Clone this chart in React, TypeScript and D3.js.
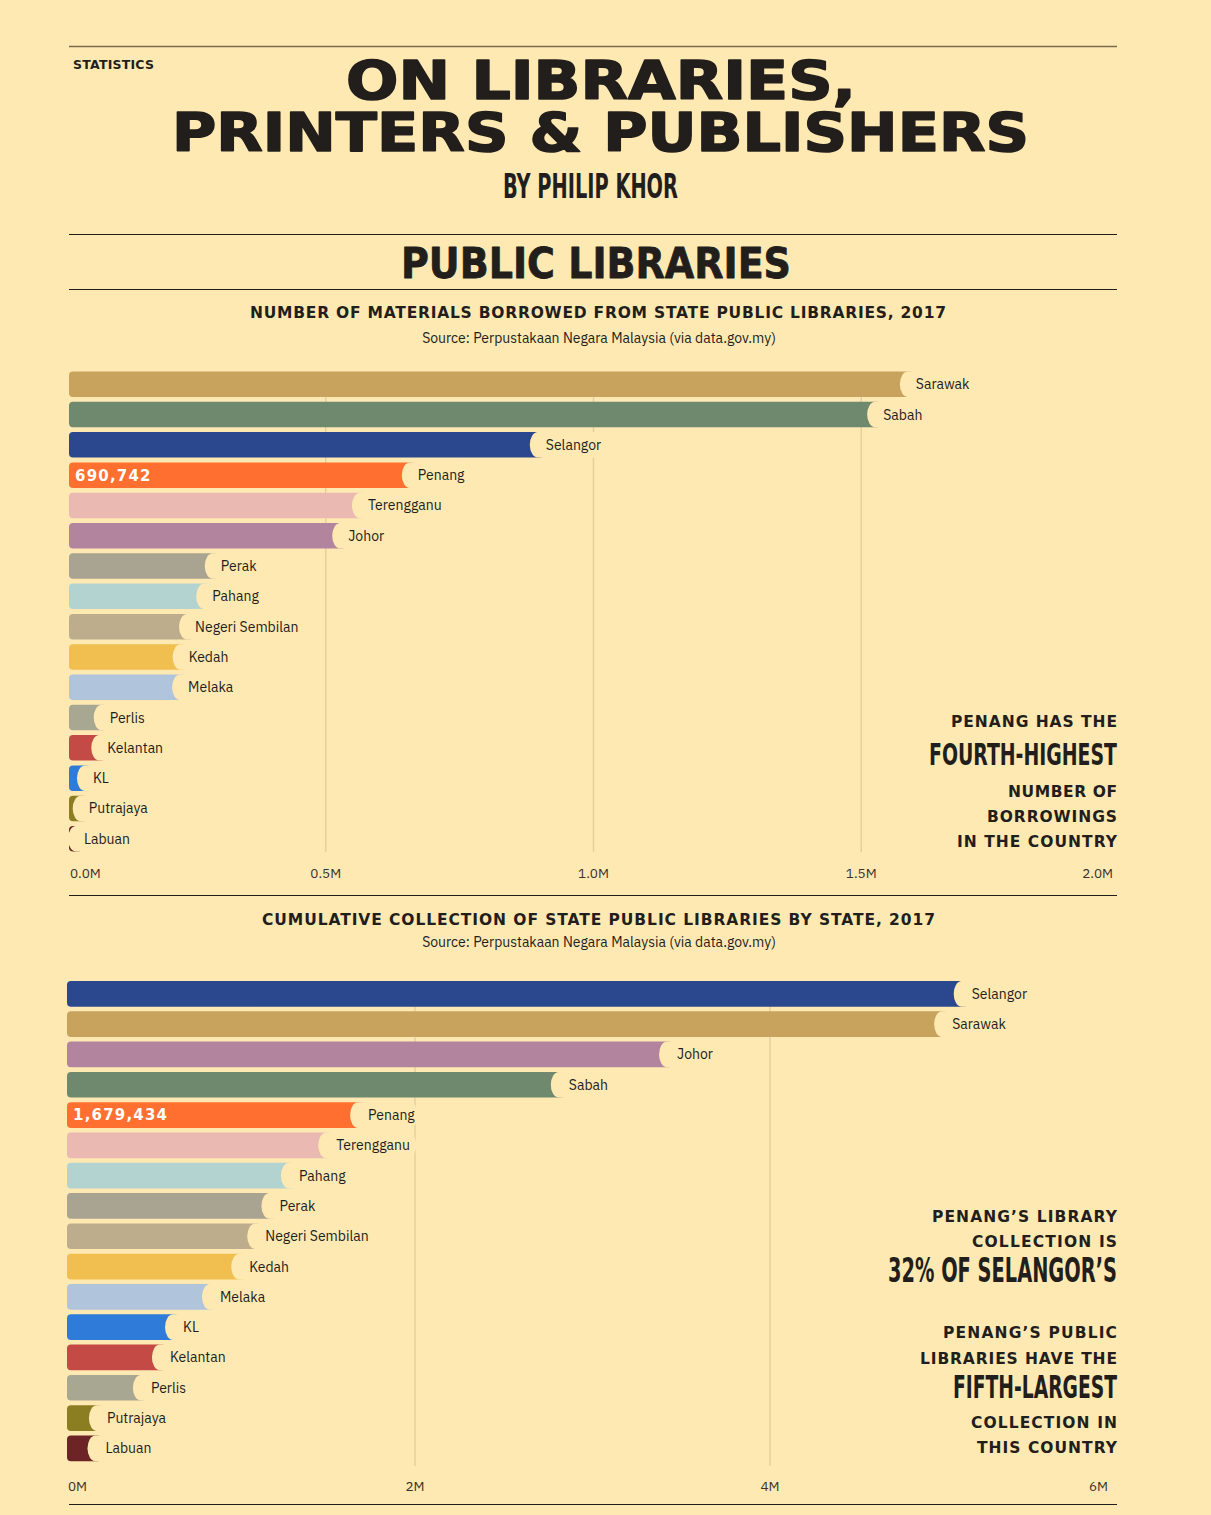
import React, { useEffect } from "react";
import * as d3 from "d3";

// ---------- DATA ----------
const borrowStates = ["Sarawak", "Sabah", "Selangor", "Penang", "Terengganu", "Johor", "Perak", "Pahang", "Negeri Sembilan", "Kedah", "Melaka", "Perlis", "Kelantan", "KL", "Putrajaya", "Labuan"];
const borrowValues = [1587000, 1526000, 896000, 657000, 564000, 527000, 289000, 273000, 241000, 229000, 228000, 81600, 77100, 50400, 42400, 33600];
const borrowTicks = [0, 500000, 1000000, 1500000, 2000000];
const penangBorrowings = 690742;

const collectionStates = ["Selangor", "Sarawak", "Johor", "Sabah", "Penang", "Terengganu", "Pahang", "Perak", "Negeri Sembilan", "Kedah", "Melaka", "KL", "Kelantan", "Perlis", "Putrajaya", "Labuan"];
const collectionValues = [5080000, 4970000, 3420000, 2810000, 1679434, 1500000, 1290000, 1180000, 1100000, 1010000, 845000, 637000, 563000, 456000, 208000, 200000];
const collectionTicks = [0, 2000000, 4000000, 6000000];
const penangCollection = 1679434;

const stateColors: Record<string, string> = {
  Sarawak: "#C8A35E",
  Sabah: "#6E896E",
  Selangor: "#2B488E",
  Penang: "#FF6F30",
  Terengganu: "#EAB9B2",
  Johor: "#B3849D",
  Perak: "#A9A491",
  Pahang: "#B3D3D1",
  "Negeri Sembilan": "#BDAD8C",
  Kedah: "#F0BF4F",
  Melaka: "#B0C4DC",
  Perlis: "#A8A792",
  Kelantan: "#C44A46",
  KL: "#2F7BDA",
  Putrajaya: "#8A7D22",
  Labuan: "#6C2426",
};

// ---------- STYLE ----------
const BG = "#FFE9B3";
const INK = "#221E1B";
const GRID = "#E6CF9E";
const WIDE = "'DejaVu Sans', Verdana, sans-serif";
const NARROW = "'Liberation Sans Narrow', 'DejaVu Sans Condensed', Roboto, sans-serif";
const BODY = "'IBM Plex Sans', 'Noto Sans', 'Open Sans', sans-serif";

type FitProps = { x: number; y: number; w: number; size: number; font: string; weight?: number | string; squeeze?: boolean; fill?: string; stroke?: number; children: string };
const Fit = ({ x, y, w, size, font, weight = 700, squeeze = false, fill = INK, stroke = 0, children }: FitProps) => (
  <text x={x} y={y} fontFamily={font} fontSize={size} fontWeight={weight} fill={fill}
    stroke={stroke ? fill : undefined} strokeWidth={stroke || undefined} strokeLinejoin="round"
    textLength={w} lengthAdjust={squeeze ? "spacingAndGlyphs" : "spacing"}>{children}</text>
);

type ChartProps = {
  states: string[];
  values: number[];
  ticks: number[];
  tickFmt: (v: number) => string;
  domainMax: number;
  range: [number, number];
  barLeft: number;
  axisRight: number;
  top: number;
  step: number;
  barH: number;
  gridBottom: number;
  axisY: number;
  highlight: string;
  highlightValue: number;
  labelGap: number;
};

const BarChart = (p: ChartProps) => {
  const x = d3.scaleLinear().domain([0, p.domainMax]).range(p.range);
  const pad = (p.step - p.barH) / p.step;
  const y = d3.scaleBand<string>().domain(p.states).range([p.top - (p.step * pad) / 2, p.top - (p.step * pad) / 2 + p.states.length * p.step]).paddingInner(pad).paddingOuter(pad / 2);
  const bw = y.bandwidth();
  const fmtComma = d3.format(",");
  return (
    <g>
      {p.ticks.slice(1, -1).map((t) => (
        <line key={t} x1={x(t)} x2={x(t)} y1={y(p.states[0])!} y2={p.gridBottom} stroke={GRID} strokeWidth={1.5} />
      ))}
      {p.states.map((s, i) => {
        const end = x(p.values[i]);
        const yy = y(s)!;
        const tw = s.length * 7.6 + 22;
        return (
          <g key={s}>
            <rect x={p.barLeft} y={yy} width={Math.max(0, end - p.barLeft + 6)} height={bw} rx={4} fill={stateColors[s]} />
            <rect x={end - 8} y={yy} width={tw} height={bw} rx={8} ry={bw / 2} fill={BG} />
            <text x={end + p.labelGap} y={yy + bw / 2} dy="0.36em" fontFamily={BODY} fontSize={14} fill={INK}>{s}</text>
            {s === p.highlight && (
              <text x={p.barLeft + 6} y={yy + bw / 2} dy="0.36em" fontFamily={WIDE} fontWeight={700} fontSize={15} letterSpacing={1.2} fill="#FFFFFF">{fmtComma(p.highlightValue)}</text>
            )}
          </g>
        );
      })}
      {p.ticks.map((t, i) => {
        const last = i === p.ticks.length - 1;
        const first = i === 0;
        return (
          <text key={t} x={first ? p.barLeft + 1 : last ? p.axisRight : x(t)} y={p.axisY}
            textAnchor={first ? "start" : last ? "end" : "middle"} fontFamily={BODY} fontSize={13.5} fill="#3A332C">{p.tickFmt(t)}</text>
        );
      })}
    </g>
  );
};

export default function App() {
  useEffect(() => {
    document.body.style.margin = "0";
    document.body.style.background = BG;
  }, []);
  const W = 1211, H = 1515;
  const R = 1117;
  const ann = (text: string, y: number, w: number) => (
    <Fit x={R - w} y={y} w={w} size={15.5} font={WIDE}>{text}</Fit>
  );
  const big = (text: string, y: number, w: number, size: number) => (
    <Fit x={R - w} y={y} w={w} size={size} font={NARROW} weight={600} squeeze>{text}</Fit>
  );
  return (
    <div style={{ position: "absolute", left: 0, top: 0, background: BG }}>
      <svg width={W} height={H} viewBox={`0 0 ${W} ${H}`} style={{ display: "block" }}>
        <rect width={W} height={H} fill={BG} />
        {/* header */}
        <line x1={69} x2={1117} y1={46.5} y2={46.5} stroke="#7A6B4E" strokeWidth={1.5} />
        <Fit x={73} y={69} w={81} size={12.5} font={WIDE}>STATISTICS</Fit>
        <Fit x={346} y={99} w={510} size={53} font={WIDE} weight={700} squeeze stroke={1.6}>ON LIBRARIES,</Fit>
        <Fit x={172} y={151} w={857} size={53} font={WIDE} weight={700} squeeze stroke={1.6}>PRINTERS &amp; PUBLISHERS</Fit>
        <Fit x={503} y={198} w={175} size={34} font={NARROW} weight={600} squeeze>BY PHILIP KHOR</Fit>
        <line x1={69} x2={1117} y1={234.5} y2={234.5} stroke={INK} strokeWidth={1.2} />
        <Fit x={401} y={277.5} w={390} size={42} font={WIDE} weight={700} squeeze stroke={0.8}>PUBLIC LIBRARIES</Fit>
        <line x1={69} x2={1117} y1={289.5} y2={289.5} stroke={INK} strokeWidth={1.2} />

        {/* chart 1 */}
        <Fit x={250} y={318} w={696} size={15.5} font={WIDE}>NUMBER OF MATERIALS BORROWED FROM STATE PUBLIC LIBRARIES, 2017</Fit>
        <text x={599} y={343} textAnchor="middle" fontFamily={BODY} fontSize={14} fill={INK}>Source: Perpustakaan Negara Malaysia (via data.gov.my)</text>
        <BarChart states={borrowStates} values={borrowValues} ticks={borrowTicks} tickFmt={(v) => d3.format(".1f")(v / 1e6) + "M"}
          domainMax={2000000} range={[58, 1129]} barLeft={69} axisRight={1113} top={371.5} step={30.3} barH={25.5}
          gridBottom={852} axisY={878} highlight="Penang" highlightValue={penangBorrowings} labelGap={8} />
        {ann("PENANG HAS THE", 727, 166)}
        {big("FOURTH-HIGHEST", 765, 188, 31)}
        {ann("NUMBER OF", 797, 109)}
        {ann("BORROWINGS", 822, 130)}
        {ann("IN THE COUNTRY", 847, 160)}
        <line x1={69} x2={1117} y1={895.5} y2={895.5} stroke={INK} strokeWidth={1.2} />

        {/* chart 2 */}
        <Fit x={262} y={925} w={673} size={15.5} font={WIDE}>CUMULATIVE COLLECTION OF STATE PUBLIC LIBRARIES BY STATE, 2017</Fit>
        <text x={599} y={947} textAnchor="middle" fontFamily={BODY} fontSize={14} fill={INK}>Source: Perpustakaan Negara Malaysia (via data.gov.my)</text>
        <BarChart states={collectionStates} values={collectionValues} ticks={collectionTicks} tickFmt={(v) => d3.format("d")(v / 1e6) + "M"}
          domainMax={6000000} range={[60, 1125]} barLeft={67} axisRight={1108} top={981} step={30.3} barH={25.7}
          gridBottom={1466} axisY={1491} highlight="Penang" highlightValue={penangCollection} labelGap={10} />
        {ann("PENANG\u2019S LIBRARY", 1221.5, 185)}
        {ann("COLLECTION IS", 1246.5, 145)}
        {big("32% OF SELANGOR\u2019S", 1282, 229, 33)}
        {ann("PENANG\u2019S PUBLIC", 1338, 174)}
        {ann("LIBRARIES HAVE THE", 1364, 197)}
        {big("FIFTH-LARGEST", 1398, 164, 32)}
        {ann("COLLECTION IN", 1428, 146)}
        {ann("THIS COUNTRY", 1453, 140)}
        <line x1={69} x2={1117} y1={1504.5} y2={1504.5} stroke={INK} strokeWidth={1.2} />
      </svg>
    </div>
  );
}
